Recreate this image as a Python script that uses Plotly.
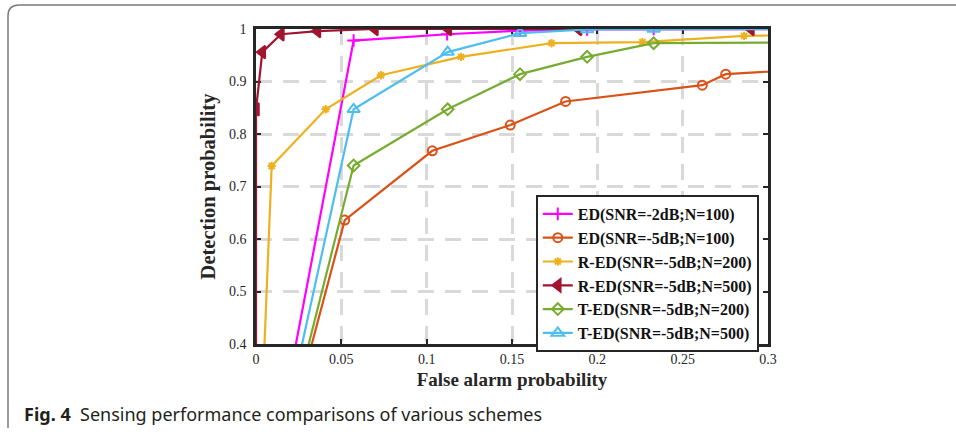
import plotly.graph_objects as go

# ---- data ----
ed_m2_n100_x = [0.0, 0.0572, 0.112, 0.1547, 0.194, 0.233, 0.35]
ed_m2_n100_y = [0.0, 0.978, 0.990, 0.997, 0.999, 1.0, 1.0]

ed_m5_n100_x = [0.0, 0.052, 0.1033, 0.149, 0.1814, 0.2615, 0.2752, 0.35]
ed_m5_n100_y = [0.0, 0.636, 0.768, 0.817, 0.862, 0.893, 0.914, 0.929]

red_m5_n200_x = [0.0, 0.0092, 0.0408, 0.0732, 0.1201, 0.1732, 0.2264, 0.286, 0.35]
red_m5_n200_y = [0.0, 0.739, 0.847, 0.912, 0.947, 0.973, 0.975, 0.987, 0.990]

red_m5_n500_x = [0.0, 0.0, 0.0037, 0.0146, 0.036, 0.0697, 0.1127, 0.189, 0.290, 0.35]
red_m5_n500_y = [0.0, 0.847, 0.956, 0.990, 0.996, 1.0, 1.0, 1.0, 1.0, 1.0]

ted_m5_n200_x = [0.0, 0.0572, 0.1123, 0.1547, 0.194, 0.233, 0.35]
ted_m5_n200_y = [0.0, 0.740, 0.847, 0.914, 0.947, 0.973, 0.975]

ted_m5_n500_x = [0.0, 0.0572, 0.1123, 0.1547, 0.194, 0.233, 0.35]
ted_m5_n500_y = [0.0, 0.847, 0.956, 0.992, 0.999, 1.0, 1.0]

names = ["ED(SNR=-2dB;N=100)", "ED(SNR=-5dB;N=100)", "R-ED(SNR=-5dB;N=200)",
         "R-ED(SNR=-5dB;N=500)", "T-ED(SNR=-5dB;N=200)", "T-ED(SNR=-5dB;N=500)"]

x_ticks = [0, 0.05, 0.1, 0.15, 0.2, 0.25, 0.3]
x_ticklabels = ["0", "0.05", "0.1", "0.15", "0.2", "0.25", "0.3"]
y_ticks = [0.4, 0.5, 0.6, 0.7, 0.8, 0.9, 1.0]
y_ticklabels = ["0.4", "0.5", "0.6", "0.7", "0.8", "0.9", "1"]

series = [
    (ed_m2_n100_x, ed_m2_n100_y, "#FF00FF", "cross-thin", 9),
    (ed_m5_n100_x, ed_m5_n100_y, "#D95319", "circle-open", 9),
    (red_m5_n200_x, red_m5_n200_y, "#EDB120", "asterisk-open", 7),
    (red_m5_n500_x, red_m5_n500_y, "#A2142F", "triangle-left", 11),
    (ted_m5_n200_x, ted_m5_n200_y, "#77AC30", "diamond-open", 9),
    (ted_m5_n500_x, ted_m5_n500_y, "#4DBEEE", "triangle-up-open", 11),
]

fig = go.Figure()
for (xs, ys, col, sym, sz), nm in zip(series, names):
    fig.add_trace(go.Scatter(
        x=xs, y=ys, mode="lines+markers", name="<b>" + nm + "</b>",
        line=dict(color=col, width=2.2),
        marker=dict(symbol=sym, size=sz, color=col,
                    line=dict(color=col, width=2)),
    ))

serif = "Liberation Serif"
axis_common = dict(
    showline=True, linewidth=2.5, linecolor="#262626", mirror="allticks",
    ticks="inside", ticklen=5, tickwidth=2, tickcolor="#262626",
    showgrid=True, gridcolor="#D9D9D9", gridwidth=2.5, griddash="16px,11px",
    zeroline=False, layer="below traces",
    tickfont=dict(family=serif, size=14, color="#262626"),
    tickprefix="<b>", ticksuffix="</b>",
)

fig.update_xaxes(range=[0, 0.3], tickvals=x_ticks, ticktext=x_ticklabels,
                 title=dict(text="<b>False alarm probability</b>",
                            font=dict(family=serif, size=19, color="#262626"),
                            standoff=8),
                 **axis_common)
fig.update_yaxes(range=[0.4, 1.0], tickvals=y_ticks, ticktext=y_ticklabels,
                 ticklabelstandoff=4,
                 title=dict(text="<b>Detection probability</b>",
                            font=dict(family=serif, size=20.5, color="#262626"),
                            standoff=8),
                 **axis_common)

fig.update_layout(
    width=956, height=435,
    margin=dict(l=256, r=188, t=29, b=91, autoexpand=False),
    paper_bgcolor="white", plot_bgcolor="rgba(0,0,0,0)",
    font=dict(family=serif, color="#262626"),
    showlegend=True,
    legend=dict(x=0.982, xanchor="right", y=0.473, yanchor="top",
                bgcolor="white", bordercolor="#262626", borderwidth=2,
                font=dict(family=serif, size=16, color="#111111"),
                itemwidth=30, tracegroupgap=0),
)

# page frame (rounded top-left corner), in paper coordinates of the plot area
def px(xp):
    return (xp - 256) / 512.0
def py(yp):
    return (344 - yp) / 315.0

frame_path = (f"M {px(8)},{py(428)} L {px(8)},{py(16)} "
              f"Q {px(8)},{py(5)} {px(19)},{py(5)} L {px(960)},{py(5)}")
fig.add_shape(type="path", path=frame_path, xref="paper", yref="paper",
              line=dict(color="#7A7A7A", width=1.5), layer="above")

fig.add_annotation(
    x=px(22), y=py(414), xref="paper", yref="paper", xanchor="left", yanchor="middle",
    showarrow=False,
    text="<b>Fig. 4</b>  Sensing performance comparisons of various schemes",
    font=dict(family="Noto Sans", size=18, color="#231F20"),
)

fig.write_html("out.html")
